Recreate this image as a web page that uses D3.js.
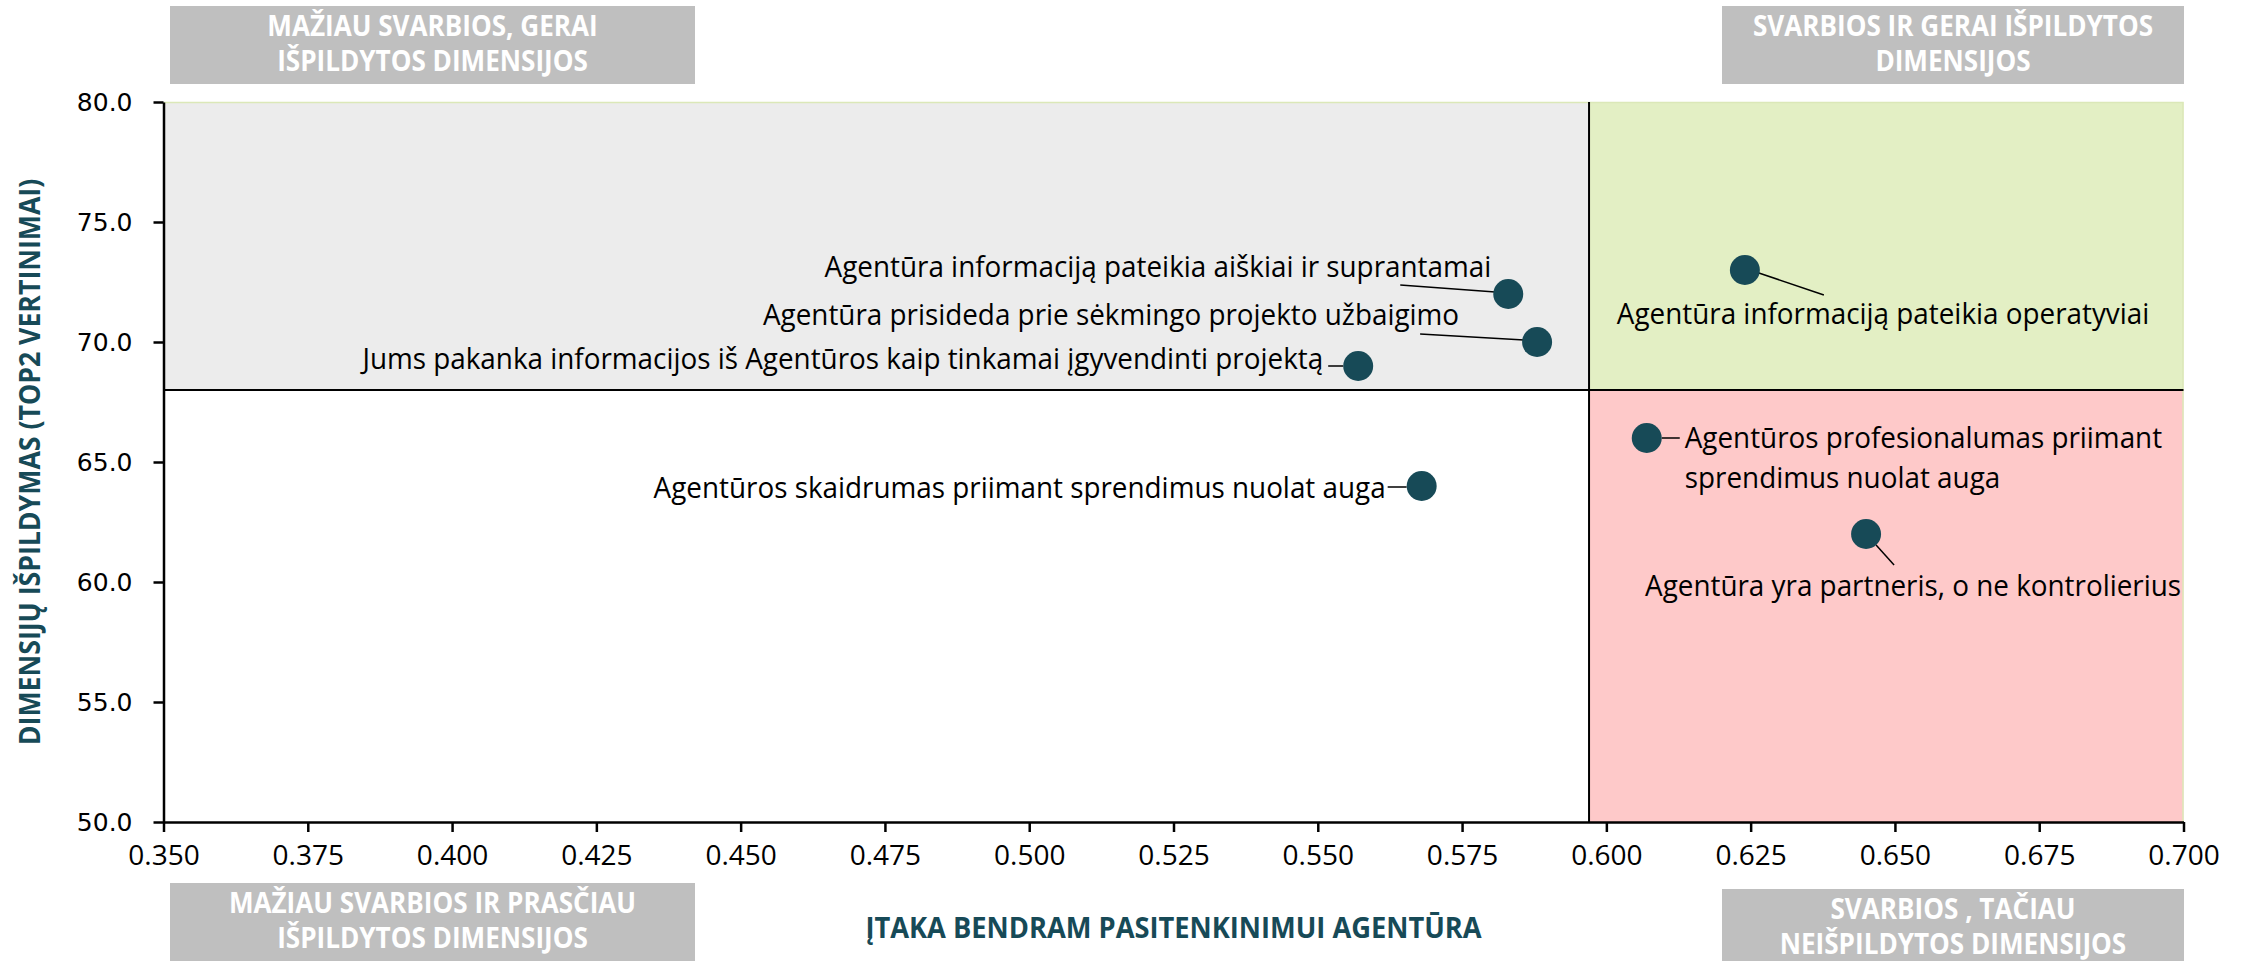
<!DOCTYPE html>
<html>
<head>
<meta charset="utf-8">
<script src="https://cdn.jsdelivr.net/npm/d3@7"></script>
<style>
  body { margin: 0; background: #fff; }
  svg { display: block; }
</style>
</head>
<body>
<svg id="chart"></svg>
<script>
// data
const dimensions = [
  'Agentūra informaciją pateikia aiškiai ir suprantamai',
  'Agentūra prisideda prie sėkmingo projekto užbaigimo',
  'Jums pakanka informacijos iš Agentūros kaip tinkamai įgyvendinti projektą',
  'Agentūros skaidrumas priimant sprendimus nuolat auga',
  'Agentūra informaciją pateikia operatyviai',
  'Agentūros profesionalumas priimant|sprendimus nuolat auga',
  'Agentūra yra partneris, o ne kontrolierius'
];
const impact = [0.583, 0.588, 0.557, 0.568, 0.624, 0.607, 0.645];
const performance = [72, 70, 69, 64, 73, 66, 62];

const xSplit = 0.597;
const ySplit = 68;

const xTicks = [0.350, 0.375, 0.400, 0.425, 0.450, 0.475, 0.500, 0.525, 0.550, 0.575, 0.600, 0.625, 0.650, 0.675, 0.700];
const yTicks = [50, 55, 60, 65, 70, 75, 80];

const quadrantTitles = [
  ['MAŽIAU SVARBIOS, GERAI', 'IŠPILDYTOS DIMENSIJOS'],
  ['SVARBIOS IR GERAI IŠPILDYTOS', 'DIMENSIJOS'],
  ['MAŽIAU SVARBIOS IR PRASČIAU', 'IŠPILDYTOS DIMENSIJOS'],
  ['SVARBIOS , TAČIAU', 'NEIŠPILDYTOS DIMENSIJOS']
];

const xTitle = 'ĮTAKA BENDRAM PASITENKINIMUI AGENTŪRA';
const yTitle = 'DIMENSIJŲ IŠPILDYMAS (TOP2 VERTINIMAI)';

// label placement relative to each dot (pixels)
const labelLayout = [
  { dx: -17, dy: -17, anchor: 'end', line: [-108, -9, -13, -2] },
  { dx: -78, dy: -17, anchor: 'end', line: [-117, -8, -13, -2] },
  { dx: -35, dy: 3, anchor: 'end', line: [-30, 0, -15, 0] },
  { dx: -36, dy: 12, anchor: 'end', line: [-34, 1, -15, 1] },
  { dx: -128, dy: 54, anchor: 'start', line: [14, 3, 79, 25] },
  { dx: 38, dy: 10, anchor: 'start', line: [15, 0, 33, 0] },
  { dx: -221, dy: 62, anchor: 'start', line: [10, 11, 28, 31] }
];

const width = 2246;
const height = 961;
const margin = { top: 102, right: 62.5, bottom: 139, left: 163.5 };
const innerW = width - margin.left - margin.right;
const innerH = height - margin.top - margin.bottom;

const font = '"Open Sans", "Noto Sans", sans-serif';
const teal = '#174a57';

// squeeze text a bit so Open Sans reads like the narrower original face
function condense(sel, k) {
  sel.each(function () {
    const len = this.getComputedTextLength();
    this.setAttribute('textLength', len * k);
    this.setAttribute('lengthAdjust', 'spacingAndGlyphs');
  });
}

const svg = d3.select('#chart')
  .attr('width', width)
  .attr('height', height);

const x = d3.scaleLinear().domain([0.35, 0.70]).range([0, innerW]);
const y = d3.scaleLinear().domain([50, 80]).range([innerH, 0]);

const g = svg.append('g')
  .attr('transform', `translate(${margin.left},${margin.top})`);

// quadrant fills
const quads = [
  { x0: 0.35, x1: xSplit, y0: ySplit, y1: 80, fill: '#ececec' },
  { x0: xSplit, x1: 0.70, y0: ySplit, y1: 80, fill: '#e3efc4' },
  { x0: 0.35, x1: xSplit, y0: 50, y1: ySplit, fill: '#ffffff' },
  { x0: xSplit, x1: 0.70, y0: 50, y1: ySplit, fill: '#fec9c9' }
];

g.selectAll('rect.quad')
  .data(quads)
  .enter()
  .append('rect')
  .attr('class', 'quad')
  .attr('x', d => x(d.x0))
  .attr('y', d => y(d.y1))
  .attr('width', d => x(d.x1) - x(d.x0))
  .attr('height', d => y(d.y0) - y(d.y1))
  .attr('fill', d => d.fill);

// thin green frame on top and right
g.append('path')
  .attr('d', `M0,0.5H${innerW - 0.5}V${innerH}`)
  .attr('fill', 'none')
  .attr('stroke', '#dbe8b8')
  .attr('stroke-width', 1.5);

// split lines
g.append('line')
  .attr('x1', x(xSplit)).attr('x2', x(xSplit))
  .attr('y1', 0).attr('y2', innerH)
  .attr('stroke', '#000').attr('stroke-width', 2);

g.append('line')
  .attr('x1', 0).attr('x2', innerW)
  .attr('y1', y(ySplit)).attr('y2', y(ySplit))
  .attr('stroke', '#000').attr('stroke-width', 2);

// axes
const yAxis = g.append('g')
  .call(d3.axisLeft(y)
    .tickValues(yTicks)
    .tickFormat(d3.format('.1f'))
    .tickSize(10)
    .tickSizeOuter(0)
    .tickPadding(21));

yAxis.select('.domain').attr('stroke', '#000').attr('stroke-width', 2.5);
yAxis.selectAll('.tick line').attr('stroke', '#000').attr('stroke-width', 2.5);
yAxis.selectAll('.tick text')
  .attr('font-family', '"DejaVu Sans", Verdana, sans-serif')
  .attr('font-size', 25)
  .attr('fill', '#000');

const xAxis = g.append('g')
  .attr('transform', `translate(0,${innerH})`)
  .call(d3.axisBottom(x)
    .tickValues(xTicks)
    .tickFormat(d3.format('.3f'))
    .tickSize(10)
    .tickSizeOuter(0)
    .tickPadding(13));

xAxis.select('.domain').attr('stroke', '#000').attr('stroke-width', 2.5);
xAxis.selectAll('.tick line').attr('stroke', '#000').attr('stroke-width', 2.5);
xAxis.selectAll('.tick text')
  .attr('font-family', font)
  .attr('font-size', 28)
  .attr('fill', '#000');

// leader lines, dots and labels
const points = dimensions.map((name, i) => ({
  name,
  cx: x(impact[i]),
  cy: y(performance[i]),
  layout: labelLayout[i]
}));

g.selectAll('line.leader')
  .data(points)
  .enter()
  .append('line')
  .attr('class', 'leader')
  .attr('x1', d => d.cx + d.layout.line[0])
  .attr('y1', d => d.cy + d.layout.line[1])
  .attr('x2', d => d.cx + d.layout.line[2])
  .attr('y2', d => d.cy + d.layout.line[3])
  .attr('stroke', '#000')
  .attr('stroke-width', 1.5);

g.selectAll('circle.dot')
  .data(points)
  .enter()
  .append('circle')
  .attr('class', 'dot')
  .attr('cx', d => d.cx)
  .attr('cy', d => d.cy)
  .attr('r', 15)
  .attr('fill', teal);

const labelText = g.selectAll('text.label')
  .data(points)
  .enter()
  .append('text')
  .attr('class', 'label')
  .attr('font-family', font)
  .attr('font-size', 29)
  .attr('fill', '#000')
  .attr('text-anchor', d => d.layout.anchor);

labelText.selectAll('tspan')
  .data(d => d.name.split('|').map((t, i) => ({ t, i, d })))
  .enter()
  .append('tspan')
  .attr('x', p => p.d.cx + p.d.layout.dx)
  .attr('y', p => p.d.cy + p.d.layout.dy + p.i * 40)
  .text(p => p.t);

condense(labelText.selectAll('tspan'), 0.96);

// quadrant title boxes
const boxes = [
  { x0: 170, x1: 695, top: 6, h: 78 },
  { x0: 1722, x1: 2184, top: 6, h: 78 },
  { x0: 170, x1: 695, top: 883, h: 90 },
  { x0: 1722, x1: 2184, top: 889, h: 90 }
];

const box = svg.selectAll('g.box')
  .data(boxes)
  .enter()
  .append('g')
  .attr('class', 'box');

box.append('rect')
  .attr('x', d => d.x0)
  .attr('y', d => d.top)
  .attr('width', d => d.x1 - d.x0)
  .attr('height', d => d.h)
  .attr('fill', '#bfbfbf');

const boxText = box.append('text')
  .attr('font-family', font)
  .attr('font-weight', 700)
  .attr('font-size', 29)
  .attr('fill', '#fff')
  .attr('text-anchor', 'middle');

boxText.selectAll('tspan')
  .data((d, i) => quadrantTitles[i].map((t, j) => ({ t, j, d })))
  .enter()
  .append('tspan')
  .attr('x', p => (p.d.x0 + p.d.x1) / 2)
  .attr('y', p => p.d.top + 30 + p.j * 35)
  .text(p => p.t);

condense(boxText.selectAll('tspan'), 0.9);

// axis titles
const xt = svg.append('text')
  .attr('x', margin.left + innerW / 2)
  .attr('y', 938)
  .attr('text-anchor', 'middle')
  .attr('font-family', font)
  .attr('font-weight', 700)
  .attr('font-size', 29)
  .attr('fill', teal)
  .text(xTitle);
condense(xt, 0.94);

const yt = svg.append('text')
  .attr('transform', `translate(40,${margin.top + innerH / 2}) rotate(-90)`)
  .attr('text-anchor', 'middle')
  .attr('font-family', font)
  .attr('font-weight', 700)
  .attr('font-size', 29)
  .attr('fill', teal)
  .text(yTitle);
condense(yt, 0.92);
</script>
</body>
</html>
